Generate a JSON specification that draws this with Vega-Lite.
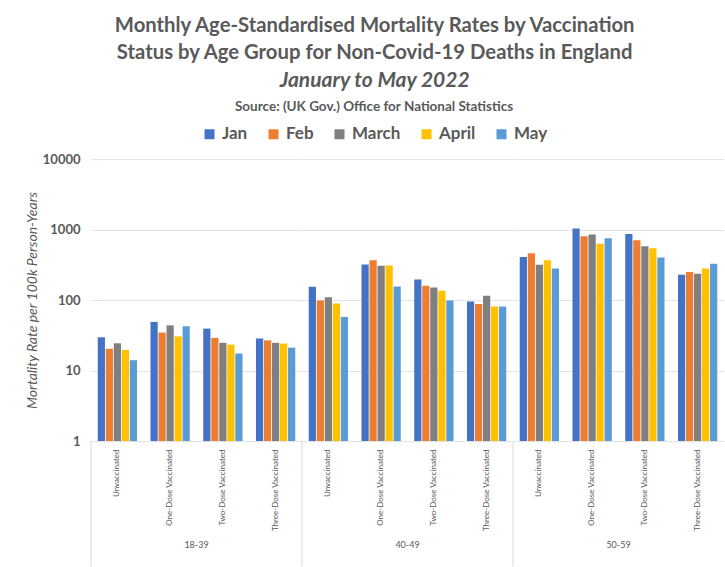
{
  "$schema": "https://vega.github.io/schema/vega-lite/v6.json",
  "background": "white",
  "padding": {"left": 25, "top": 16, "right": 0, "bottom": 4},
  "bounds": "flush",
  "title": {
    "text": ["Monthly Age-Standardised Mortality Rates by Vaccination", "Status by Age Group for Non-Covid-19 Deaths in England"],
    "subtitle": "January to May 2022",
    "font": "Lato", "fontSize": 20.3, "fontWeight": "bold", "color": "#595959", "lineHeight": 26.5,
    "subtitleFont": "Lato", "subtitleFontSize": 21, "subtitleFontStyle": "italic", "subtitleFontWeight": "bold", "subtitleColor": "#595959", "subtitlePadding": 7,
    "anchor": "middle", "offset": 9
  },
  "data": {"values": [
    {"age": "18-39", "status": "Unvaccinated", "month": "Jan", "rate": 29.6},
    {"age": "18-39", "status": "Unvaccinated", "month": "Feb", "rate": 20.3},
    {"age": "18-39", "status": "Unvaccinated", "month": "March", "rate": 24.3},
    {"age": "18-39", "status": "Unvaccinated", "month": "April", "rate": 19.6},
    {"age": "18-39", "status": "Unvaccinated", "month": "May", "rate": 14.0},
    {"age": "18-39", "status": "One-Dose Vaccinated", "month": "Jan", "rate": 48.9},
    {"age": "18-39", "status": "One-Dose Vaccinated", "month": "Feb", "rate": 34.5},
    {"age": "18-39", "status": "One-Dose Vaccinated", "month": "March", "rate": 43.7},
    {"age": "18-39", "status": "One-Dose Vaccinated", "month": "April", "rate": 30.5},
    {"age": "18-39", "status": "One-Dose Vaccinated", "month": "May", "rate": 42.4},
    {"age": "18-39", "status": "Two-Dose Vaccinated", "month": "Jan", "rate": 39.3},
    {"age": "18-39", "status": "Two-Dose Vaccinated", "month": "Feb", "rate": 29.0},
    {"age": "18-39", "status": "Two-Dose Vaccinated", "month": "March", "rate": 24.7},
    {"age": "18-39", "status": "Two-Dose Vaccinated", "month": "April", "rate": 23.3},
    {"age": "18-39", "status": "Two-Dose Vaccinated", "month": "May", "rate": 17.4},
    {"age": "18-39", "status": "Three-Dose Vaccinated", "month": "Jan", "rate": 28.4},
    {"age": "18-39", "status": "Three-Dose Vaccinated", "month": "Feb", "rate": 26.8},
    {"age": "18-39", "status": "Three-Dose Vaccinated", "month": "March", "rate": 24.7},
    {"age": "18-39", "status": "Three-Dose Vaccinated", "month": "April", "rate": 24.1},
    {"age": "18-39", "status": "Three-Dose Vaccinated", "month": "May", "rate": 21.1},
    {"age": "40-49", "status": "Unvaccinated", "month": "Jan", "rate": 154},
    {"age": "40-49", "status": "Unvaccinated", "month": "Feb", "rate": 98.6},
    {"age": "40-49", "status": "Unvaccinated", "month": "March", "rate": 109},
    {"age": "40-49", "status": "Unvaccinated", "month": "April", "rate": 89.5},
    {"age": "40-49", "status": "Unvaccinated", "month": "May", "rate": 57.5},
    {"age": "40-49", "status": "One-Dose Vaccinated", "month": "Jan", "rate": 319},
    {"age": "40-49", "status": "One-Dose Vaccinated", "month": "Feb", "rate": 367},
    {"age": "40-49", "status": "One-Dose Vaccinated", "month": "March", "rate": 305},
    {"age": "40-49", "status": "One-Dose Vaccinated", "month": "April", "rate": 308},
    {"age": "40-49", "status": "One-Dose Vaccinated", "month": "May", "rate": 156},
    {"age": "40-49", "status": "Two-Dose Vaccinated", "month": "Jan", "rate": 196},
    {"age": "40-49", "status": "Two-Dose Vaccinated", "month": "Feb", "rate": 159},
    {"age": "40-49", "status": "Two-Dose Vaccinated", "month": "March", "rate": 151},
    {"age": "40-49", "status": "Two-Dose Vaccinated", "month": "April", "rate": 135},
    {"age": "40-49", "status": "Two-Dose Vaccinated", "month": "May", "rate": 98.6},
    {"age": "40-49", "status": "Three-Dose Vaccinated", "month": "Jan", "rate": 95.5},
    {"age": "40-49", "status": "Three-Dose Vaccinated", "month": "Feb", "rate": 87.7},
    {"age": "40-49", "status": "Three-Dose Vaccinated", "month": "March", "rate": 115},
    {"age": "40-49", "status": "Three-Dose Vaccinated", "month": "April", "rate": 81.2},
    {"age": "40-49", "status": "Three-Dose Vaccinated", "month": "May", "rate": 81.2},
    {"age": "50-59", "status": "Unvaccinated", "month": "Jan", "rate": 406},
    {"age": "50-59", "status": "Unvaccinated", "month": "Feb", "rate": 462},
    {"age": "50-59", "status": "Unvaccinated", "month": "March", "rate": 316},
    {"age": "50-59", "status": "Unvaccinated", "month": "April", "rate": 367},
    {"age": "50-59", "status": "Unvaccinated", "month": "May", "rate": 280},
    {"age": "50-59", "status": "One-Dose Vaccinated", "month": "Jan", "rate": 1030},
    {"age": "50-59", "status": "One-Dose Vaccinated", "month": "Feb", "rate": 804},
    {"age": "50-59", "status": "One-Dose Vaccinated", "month": "March", "rate": 847},
    {"age": "50-59", "status": "One-Dose Vaccinated", "month": "April", "rate": 626},
    {"age": "50-59", "status": "One-Dose Vaccinated", "month": "May", "rate": 753},
    {"age": "50-59", "status": "Two-Dose Vaccinated", "month": "Jan", "rate": 866},
    {"age": "50-59", "status": "Two-Dose Vaccinated", "month": "Feb", "rate": 705},
    {"age": "50-59", "status": "Two-Dose Vaccinated", "month": "March", "rate": 580},
    {"age": "50-59", "status": "Two-Dose Vaccinated", "month": "April", "rate": 544},
    {"age": "50-59", "status": "Two-Dose Vaccinated", "month": "May", "rate": 401},
    {"age": "50-59", "status": "Three-Dose Vaccinated", "month": "Jan", "rate": 228},
    {"age": "50-59", "status": "Three-Dose Vaccinated", "month": "Feb", "rate": 249},
    {"age": "50-59", "status": "Three-Dose Vaccinated", "month": "March", "rate": 236},
    {"age": "50-59", "status": "Three-Dose Vaccinated", "month": "April", "rate": 280},
    {"age": "50-59", "status": "Three-Dose Vaccinated", "month": "May", "rate": 326}
  ]},
  "facet": {
    "column": {
      "field": "age", "type": "nominal",
      "header": {"labelOrient": "bottom", "title": null, "labelFont": "Lato", "labelFontSize": 9, "labelColor": "#595959", "labelPadding": 10}
    }
  },
  "spacing": 0,
  "spec": {
    "width": 211,
    "height": 282,
    "layer": [
      {
        "mark": {"type": "bar"},
        "encoding": {
          "x": {
            "field": "status", "type": "nominal",
            "scale": {"type": "band", "domain": ["Unvaccinated", "One-Dose Vaccinated", "Two-Dose Vaccinated", "Three-Dose Vaccinated"], "paddingInner": 0, "paddingOuter": 0},
            "axis": {"title": null, "labelAngle": -90, "labelFont": "Lato", "labelFontSize": 8, "labelColor": "#595959", "ticks": false, "domain": true, "domainColor": "#D9D9D9", "labelPadding": 8, "grid": false}
          },
          "xOffset": {
            "field": "month", "type": "nominal",
            "scale": {"domain": ["Jan", "Feb", "March", "April", "May"], "paddingInner": 0.1, "paddingOuter": 0.84}
          },
          "y": {
            "field": "rate", "type": "quantitative", "stack": null,
            "scale": {"type": "log", "domain": [1, 10000]},
            "axis": {"values": [1, 10, 100, 1000, 10000], "format": "d", "title": "Mortality Rate per 100k Person-Years",
              "titleFont": "Lato", "titleFontSize": 14, "titleFontStyle": "italic", "titleFontWeight": "normal", "titleColor": "#595959", "titlePadding": 3,
              "labelFont": "Lato", "labelFontSize": 13, "labelFontWeight": "bold", "labelColor": "#595959", "labelPadding": 11,
              "ticks": false, "domain": false, "grid": true, "gridColor": "#E3E3E3"}
          },
          "color": {
            "field": "month", "type": "nominal",
            "scale": {"domain": ["Jan", "Feb", "March", "April", "May"], "range": ["#4472C4", "#ED7D31", "#7F7F7F", "#FFC000", "#5B9BD5"]},
            "legend": {"orient": "top", "direction": "horizontal", "title": "Source: (UK Gov.) Office for National Statistics",
              "titleOrient": "top", "titleAnchor": "middle", "titleFont": "Lato", "titleFontSize": 13.5, "titleFontWeight": "bold", "titleColor": "#595959", "titlePadding": 12, "titleLimit": 500,
              "labelFont": "Lato", "labelFontSize": 17, "labelFontWeight": "bold", "labelColor": "#595959", "labelOffset": 4,
              "symbolType": "square", "symbolSize": 100, "symbolStrokeWidth": 0, "columnPadding": 17, "offset": 10}
          }
        }
      },
      {
        "transform": [{"filter": "datum.status === 'Unvaccinated' && datum.month === 'Jan'"}],
        "mark": {"type": "rule", "color": "#D9D9D9", "strokeWidth": 1},
        "encoding": {
          "x": {"datum": "Unvaccinated", "type": "nominal", "bandPosition": 0},
          "y": {"datum": 1},
          "y2": {"datum": 0.0166}
        }
      }
    ]
  },
  "config": {
    "view": {"stroke": null},
    "font": "Lato",
    "legend": {"layout": {"top": {"anchor": "middle"}}}
  }
}
